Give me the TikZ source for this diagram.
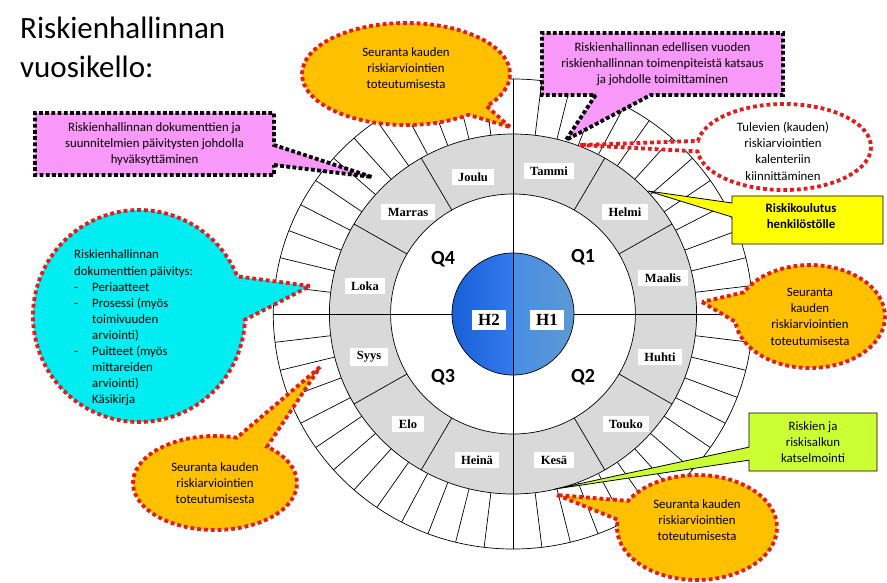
\documentclass[tikz,border=0pt]{standalone}
\usepackage{fontspec}
\setmainfont{Carlito}
\newfontfamily\tnr{Liberation Serif}
\usetikzlibrary{shapes.callouts,shapes.geometric,calc}
\definecolor{ringgrey}{HTML}{D9D9D9}
\definecolor{orng}{HTML}{FFC000}
\definecolor{pnk}{RGB}{248,152,248}
\definecolor{cyn}{RGB}{0,238,242}
\definecolor{ylw}{HTML}{FFFF00}
\definecolor{grn}{RGB}{204,255,51}
\definecolor{rdot}{RGB}{226,28,28}
\definecolor{blueA}{RGB}{24,96,214}
\definecolor{blueB}{RGB}{52,122,238}
\definecolor{blueC}{RGB}{72,142,228}
\definecolor{blueD}{RGB}{92,152,212}
\begin{document}
\begin{tikzpicture}[x=1pt,y=-1pt,
  ring/.style={draw=black,line width=0.7pt},
  monthlbl/.style={fill=white,font=\tnr\bfseries\fontsize{12.5}{14}\selectfont,inner xsep=6.5pt,inner ysep=4pt},
  hlbl/.style={fill=white,font=\tnr\bfseries\fontsize{17}{19}\selectfont,inner xsep=6pt,inner ysep=4pt},
  qlbl/.style={font=\bfseries\fontsize{20}{23}\selectfont},
  reddots/.style={draw=rdot,line width=3.8pt,dash pattern=on 3.8pt off 3pt},
  blackdots/.style={draw=black,line width=3.8pt,dash pattern=on 3.8pt off 2.4pt},
  ctext/.style={font=\fontsize{12.8}{16.3}\selectfont,align=center,inner sep=0pt},
  btext/.style={font=\bfseries\fontsize{12.8}{16.3}\selectfont,align=center,inner sep=0pt},
  cyline/.style={font=\fontsize{12.8}{15}\selectfont,anchor=base west,inner sep=0pt}
]
\useasboundingbox (0,0) rectangle (887,582);
\fill[white] (0,0) rectangle (887,582);

% title
\node[anchor=base west,inner sep=0pt,font=\fontsize{31}{38}\selectfont] (title1) at (20,38) {Riskienhallinnan};
\node[anchor=base west,inner sep=0pt,font=\fontsize{31}{38}\selectfont] (title2) at (20,77) {vuosikello:};

% rings
\begin{scope}[shift={(513,314)},xscale=1.02]
  \draw[ring,fill=white] (0,0) circle[radius=235pt];
  \foreach \k in {0,...,51}
    \draw[ring] ({90+\k*6.9230769}:180pt) -- ({90+\k*6.9230769}:235pt);
  \draw[ring,fill=ringgrey] (0,0) circle[radius=180pt];
  \draw[ring,fill=white] (0,0) circle[radius=120pt];
  \foreach \a in {0,30,...,330}
    \draw[ring] (\a:120pt) -- (\a:180pt);
  \draw[ring] (180:180pt) -- (180:59pt);
  \draw[ring] (0:180pt) -- (0:59pt);
\end{scope}

% blue centre
\shade[left color=blueA,right color=blueB] (513,253) arc[start angle=90,end angle=270,radius=61pt] -- cycle;
\shade[left color=blueC,right color=blueD] (513,375) arc[start angle=270,end angle=450,radius=61pt] -- cycle;
\draw[ring] (513,314) circle[radius=61pt];
\draw[ring] (513,134) -- (513,494);

% month labels
\node[monthlbl] (tammi) at (549,171) {Tammi};
\node[monthlbl] (helmi) at (625,212) {Helmi};
\node[monthlbl] (maalis) at (663,278) {Maalis};
\node[monthlbl] (huhti) at (660,357) {Huhti};
\node[monthlbl] (touko) at (626,424) {Touko};
\node[monthlbl] (kesa) at (554,460) {Kesä};
\node[monthlbl] (heina) at (477,460) {Heinä};
\node[monthlbl] (elo) at (408,424) {Elo};
\node[monthlbl] (syys) at (369,357) {Syys};
\node[monthlbl] (loka) at (365,286) {Loka};
\node[monthlbl] (marras) at (408,212) {Marras};
\node[monthlbl] (joulu) at (473,177) {Joulu};

% quarter / half labels
\node[qlbl] (q1) at (583,257) {Q1};
\node[qlbl] (q2) at (583,377) {Q2};
\node[qlbl] (q3) at (443,377) {Q3};
\node[qlbl] (q4) at (443,259) {Q4};
\node[hlbl] (h2) at (489,320) {H2};
\node[hlbl] (h1) at (547,320) {H1};

% callouts
\node[ellipse callout,fill=orng,reddots,minimum width=208pt,minimum height=102pt,
      callout absolute pointer={(510,127)},callout pointer arc=14] (co1) at (406,74) {};
\node[ctext] (co1t) at (406,68) {Seuranta kauden\\riskiarviointien\\toteutumisesta};

\node[rectangle callout,fill=pnk,blackdots,minimum width=241pt,minimum height=62pt,
      callout absolute pointer={(566,140)},callout pointer width=55pt,ctext] (co2) at (662.5,64)
      {Riskienhallinnan edellisen vuoden\\riskienhallinnan toimenpiteistä katsaus\\ja johdolle toimittaminen};

\node[rectangle callout,fill=pnk,blackdots,minimum width=239pt,minimum height=62pt,
      callout absolute pointer={(372,177)},callout pointer width=20pt,ctext] (co3) at (154.5,144)
      {Riskienhallinnan dokumenttien ja\\suunnitelmien päivitysten johdolla\\hyväksyttäminen};

\node[ellipse callout,fill=white,reddots,minimum width=174pt,minimum height=86pt,
      callout absolute pointer={(580,145)},callout pointer arc=14] (co4) at (784,147) {};
\node[ctext] (co4t) at (783,151) {Tulevien (kauden)\\riskiarviointien\\kalenteriin\\kiinnittäminen};

\node[rectangle callout,fill=ylw,draw=black,line width=0.8pt,minimum width=151pt,minimum height=48pt,
      callout absolute pointer={(648,191)},callout pointer width=14pt] (co5) at (807.5,220) {};
\node[btext] (co5t) at (801,216) {Riskikoulutus\\henkilöstölle};

\node[ellipse callout,fill=orng,reddots,minimum width=150pt,minimum height=103pt,
      callout absolute pointer={(702,302)},callout pointer arc=34,ctext] (co6) at (810,316.5)
      {Seuranta\\kauden\\riskiarviointien\\toteutumisesta};

\node[ellipse callout,fill=cyn,reddots,minimum width=212pt,minimum height=212pt,
      callout absolute pointer={(310,286)},callout pointer arc=24] (co7) at (139,316) {};
\foreach \yy/\tt [count=\i] in {258.5/{Riskienhallinnan},275/{dokumenttien päivitys:}}
  \node[cyline] (cya\i) at (74,\yy) {\tt};
\foreach \yy/\tt [count=\i] in {291/{Periaatteet},307/{Prosessi (myös},323/{toimivuuden},339/{arviointi)},355/{Puitteet (myös},371/{mittareiden},387/{arviointi)},403/{Käsikirja}}
  \node[cyline] (cyb\i) at (92,\yy) {\tt};
\foreach \yy [count=\i] in {291,307,355}
  \node[cyline] (cyd\i) at (74,\yy) {-};

\node[ellipse callout,fill=orng,reddots,minimum width=164pt,minimum height=94pt,
      callout absolute pointer={(320,367)},callout pointer arc=24,ctext] (co8) at (215,483)
      {Seuranta kauden\\riskiarviointien\\toteutumisesta};

\node[rectangle callout,fill=grn,draw=black,line width=0.8pt,minimum width=128pt,minimum height=58pt,
      callout absolute pointer={(555,489)},callout pointer width=13pt,ctext] (co9) at (813,442)
      {Riskien ja\\riskisalkun\\katselmointi};

\node[ellipse callout,fill=orng,reddots,minimum width=160pt,minimum height=105pt,
      callout absolute pointer={(557,495)},callout pointer arc=22] (co10) at (697,527.5) {};
\node[ctext] (co10t) at (697,520) {Seuranta kauden\\riskiarviointien\\toteutumisesta};
\end{tikzpicture}
\end{document}
